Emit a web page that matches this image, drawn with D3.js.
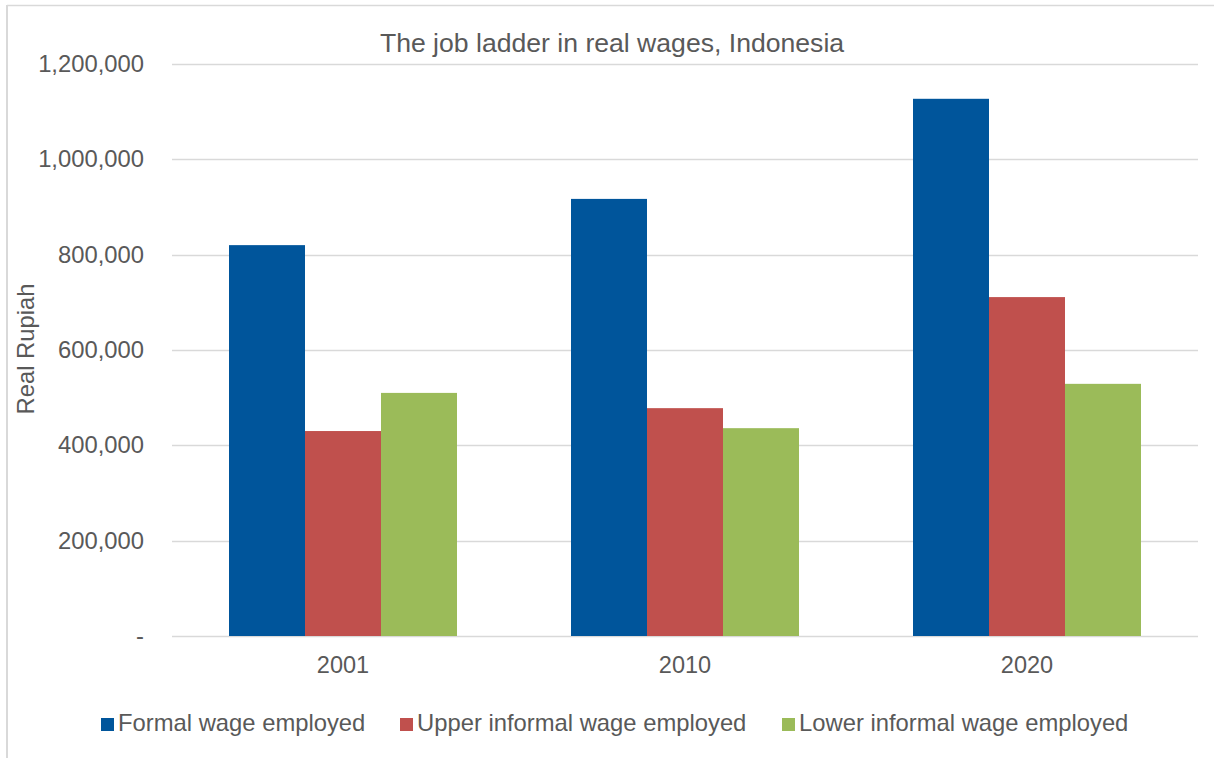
<!DOCTYPE html>
<html>
<head>
<meta charset="utf-8">
<script src="https://cdn.jsdelivr.net/npm/d3@7"></script>
<style>
  html, body { margin: 0; padding: 0; background: #fff; }
  svg { display: block; font-family: "Liberation Sans", Arial, sans-serif; }
</style>
</head>
<body>
<svg id="chart" width="1214" height="758"></svg>
<script>
// Real wages by job type, Indonesia (Real Rupiah)
const years = ["2001", "2010", "2020"];
const seriesNames = ["Formal wage employed", "Upper informal wage employed", "Lower informal wage employed"];
const seriesColors = ["#00559B", "#C0504D", "#9BBB59"];
const formal = [820000, 917000, 1127000];
const upperInformal = [430000, 478000, 711000];
const lowerInformal = [510000, 436000, 529000];
const yTicks = [0, 200000, 400000, 600000, 800000, 1000000, 1200000];

const series = [formal, upperInformal, lowerInformal];

const svg = d3.select("#chart");
const W = 1214, H = 758;
const margin = { left: 172, right: 16, top: 64, bottom: 122 };
const plotW = W - margin.left - margin.right;
const plotH = H - margin.top - margin.bottom;
const textColor = "#595959";
const fontFam = "Liberation Sans, Arial, sans-serif";

// Outer chart frame (left and top edges visible)
svg.append("line").attr("x1", 7).attr("x2", 7).attr("y1", 5).attr("y2", H)
  .attr("stroke", "#d9d9d9").attr("stroke-width", 2);
svg.append("line").attr("x1", 7).attr("x2", W).attr("y1", 5.5).attr("y2", 5.5)
  .attr("stroke", "#d9d9d9").attr("stroke-width", 1.5);

const g = svg.append("g").attr("transform", `translate(${margin.left},${margin.top})`);

const x0 = d3.scaleBand().domain(years).range([0, plotW]).paddingInner(0).paddingOuter(0);
// 150% gap width: bars occupy 3 / (3 + 1.5) of each band
const groupW = x0.bandwidth() * 3 / 4.5;
const x1 = d3.scaleBand().domain(d3.range(series.length)).range([0, groupW]).padding(0);
const y = d3.scaleLinear().domain([0, 1200000]).range([plotH, 0]);

// Gridlines
g.append("g").selectAll("line").data(yTicks).join("line")
  .attr("x1", 0).attr("x2", plotW)
  .attr("y1", d => Math.round(y(d)) + 0.5).attr("y2", d => Math.round(y(d)) + 0.5)
  .attr("stroke", "#d9d9d9").attr("stroke-width", 1.5);

// Y axis labels
const yAxis = d3.axisLeft(y).tickValues(yTicks).tickSize(0).tickPadding(28)
  .tickFormat(d => d === 0 ? "-" : d3.format(",")(d));
const ya = g.append("g").call(yAxis);
ya.select(".domain").remove();
ya.selectAll("text").attr("fill", textColor).style("font-size", "23.8px")
  .style("font-family", fontFam);

// Bars
const groups = g.append("g").selectAll("g").data(years).join("g")
  .attr("transform", d => `translate(${x0(d) + (x0.bandwidth() - groupW) / 2},0)`);
groups.selectAll("rect")
  .data((d, i) => series.map((s, k) => ({ k, v: s[i] })))
  .join("rect")
  .attr("x", d => x1(d.k))
  .attr("width", x1.bandwidth())
  .attr("y", d => y(d.v))
  .attr("height", d => plotH - y(d.v))
  .attr("fill", d => seriesColors[d.k]);

// X axis labels
const xAxis = d3.axisBottom(x0).tickSize(0).tickPadding(0);
const xa = g.append("g").attr("transform", `translate(0,${plotH})`).call(xAxis);
xa.select(".domain").remove();
xa.selectAll("text").attr("fill", textColor).style("font-size", "23.5px")
  .style("font-family", fontFam).attr("y", 37).attr("dy", null);

// Title
svg.append("text").attr("x", 612).attr("y", 52).attr("text-anchor", "middle")
  .style("font-size", "26.6px").attr("fill", textColor)
  .text("The job ladder in real wages, Indonesia");

// Y axis title
svg.append("text").attr("transform", "translate(34,349) rotate(-90)")
  .attr("text-anchor", "middle").style("font-size", "23.8px").attr("fill", textColor)
  .text("Real Rupiah");

// Legend
const legendX = [101, 400, 782];
const lg = svg.append("g").selectAll("g").data(seriesNames).join("g")
  .attr("transform", (d, i) => `translate(${legendX[i]},731)`);
lg.append("rect").attr("x", 0).attr("y", -13).attr("width", 13).attr("height", 13)
  .attr("fill", (d, i) => seriesColors[i]);
lg.append("text").attr("x", 17).attr("y", 0).style("font-size", "23.8px").attr("fill", textColor)
  .text(d => d);
</script>
</body>
</html>
